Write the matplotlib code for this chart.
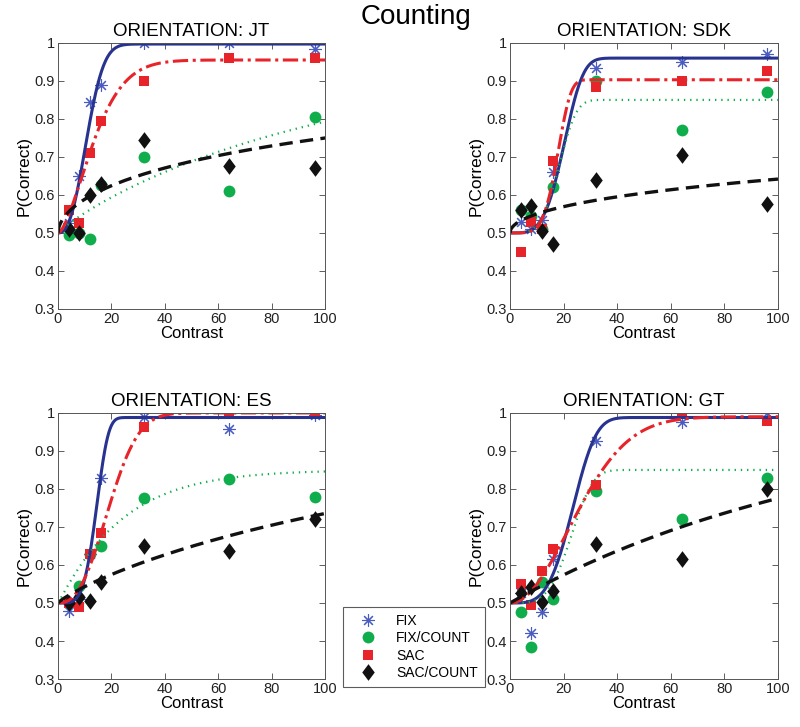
import numpy as np
import matplotlib
matplotlib.use('Agg')
import matplotlib.pyplot as plt
from matplotlib.lines import Line2D

plt.rcParams['font.family'] = ['Liberation Sans', 'DejaVu Sans']

contrasts = [4, 8, 12, 16, 32, 64, 96]
conditions = ['FIX', 'FIX/COUNT', 'SAC', 'SAC/COUNT']

# observed proportion correct, one list per condition and observer
jt_fix = [0.525, 0.65, 0.845, 0.89, 1.0, 1.0, 0.985]
jt_fixcount = [0.495, 0.50, 0.485, 0.625, 0.70, 0.61, 0.805]
jt_sac = [0.56, 0.525, 0.71, 0.795, 0.90, 0.96, 0.96]
jt_saccount = [0.51, 0.50, 0.60, 0.63, 0.745, 0.675, 0.672]

sdk_fix = [0.53, 0.51, 0.535, 0.66, 0.935, 0.95, 0.97]
sdk_fixcount = [0.56, 0.545, 0.51, 0.62, 0.90, 0.77, 0.87]
sdk_sac = [0.45, 0.53, 0.51, 0.69, 0.885, 0.90, 0.925]
sdk_saccount = [0.56, 0.57, 0.505, 0.47, 0.64, 0.705, 0.577]

es_fix = [0.48, 0.51, 0.63, 0.83, 0.99, 0.958, 0.995]
es_fixcount = [0.50, 0.545, 0.63, 0.65, 0.775, 0.825, 0.778]
es_sac = [0.50, 0.49, 0.63, 0.685, 0.963, 1.0, 1.0]
es_saccount = [0.50, 0.515, 0.505, 0.555, 0.65, 0.638, 0.722]

gt_fix = [0.525, 0.42, 0.475, 0.615, 0.925, 0.975, 1.0]
gt_fixcount = [0.475, 0.385, 0.555, 0.51, 0.795, 0.72, 0.828]
gt_sac = [0.55, 0.495, 0.585, 0.643, 0.81, 1.0, 0.98]
gt_saccount = [0.525, 0.543, 0.503, 0.532, 0.655, 0.617, 0.80]

# fitted Weibull parameters (threshold, slope, upper asymptote) per condition
jt_fits = [(12.5, 2.5, 0.997), (115, 0.9, 1.0), (16, 1.6, 0.955), (195, 0.55, 1.0)]
sdk_fits = [(22, 4.0, 0.96), (20, 4.0, 0.85), (19, 5.0, 0.903), (900, 0.5, 1.0)]
es_fits = [(15.5, 4.5, 0.988), (24, 1.05, 0.85), (22, 2.5, 1.0), (170, 0.85, 1.0)]
gt_fits = [(25.6, 3.8, 0.988), (25, 4.0, 0.85), (30.8, 2.0, 0.99), (125, 1.0, 1.0)]

panels = [
    ('ORIENTATION: JT', [jt_fix, jt_fixcount, jt_sac, jt_saccount], jt_fits),
    ('ORIENTATION: SDK', [sdk_fix, sdk_fixcount, sdk_sac, sdk_saccount], sdk_fits),
    ('ORIENTATION: ES', [es_fix, es_fixcount, es_sac, es_saccount], es_fits),
    ('ORIENTATION: GT', [gt_fix, gt_fixcount, gt_sac, gt_saccount], gt_fits),
]

rects = [
    [0.0725, 0.575, 0.334, 0.366],
    [0.6375, 0.575, 0.335, 0.366],
    [0.0725, 0.066, 0.334, 0.366],
    [0.6375, 0.066, 0.335, 0.366],
]

BLUE = '#27338f'
STAR = '#4a5cc0'
GREEN = '#0fad4b'
RED = '#e8242b'
BLACK = '#111111'

# matlab style diamond, a bit taller than wide
diamond = [(0, 1), (0.75, 0), (0, -1), (-0.75, 0), (0, 1)]

marker_styles = [
    dict(marker=(8, 2, 0), color=STAR, markersize=9, markeredgewidth=0.8),
    dict(marker='o', color=GREEN, markersize=8.5, markeredgewidth=0),
    dict(marker='s', color=RED, markersize=7.5, markeredgewidth=0),
    dict(marker=diamond, color=BLACK, markersize=12, markeredgewidth=0),
]
line_styles = [
    dict(color=BLUE, linewidth=2.2, linestyle='-'),
    dict(color=GREEN, linewidth=1.6, linestyle=(0, (0.6, 2.2))),
    dict(color=RED, linewidth=2.2, linestyle=(0, (5, 1.5, 1, 1.5))),
    dict(color=BLACK, linewidth=2.4, linestyle=(0, (4, 2.2))),
]


def weibull(x, alpha, beta, top):
    return 0.5 + (top - 0.5) * (1 - np.exp(-(x / alpha) ** beta))


fig = plt.figure(figsize=(8, 7.27), dpi=100)
fig.text(0.52, 0.977, 'Counting', ha='center', va='center', fontsize=20)

xs = np.linspace(0, 100, 400)
for (title, series, fits), rect in zip(panels, rects):
    ax = fig.add_axes(rect)
    for vals, ms in zip(series, marker_styles):
        ax.plot(contrasts, vals, linestyle='none', **ms)
    for (a, b, top), ls in zip(fits, line_styles):
        ax.plot(xs, weibull(xs, a, b, top), **ls)
    ax.set_xlim(0, 100)
    ax.set_ylim(0.3, 1)
    ax.set_xticks([0, 20, 40, 60, 80, 100])
    ax.set_yticks([0.3, 0.4, 0.5, 0.6, 0.7, 0.8, 0.9, 1.0])
    ax.set_yticklabels(['0.3', '0.4', '0.5', '0.6', '0.7', '0.8', '0.9', '1'])
    ax.tick_params(direction='in', top=True, right=True, labelsize=10.5,
                   length=4, width=0.6, color='#444444', labelcolor='#222222', pad=2)
    for sp in ax.spines.values():
        sp.set_linewidth(0.7)
        sp.set_color('#555555')
    ax.set_title(title, fontsize=13.5, pad=5)
    ax.set_xlabel('Contrast', fontsize=12, labelpad=0)
    ax.set_ylabel('P(Correct)', fontsize=12.5, labelpad=2)

handles = [Line2D([], [], linestyle='none', **ms) for ms in marker_styles]
leg = fig.legend(handles, conditions, loc='lower left', bbox_to_anchor=(0.429, 0.055),
                 fontsize=10, frameon=True, fancybox=False, borderaxespad=0,
                 handletextpad=0.8, labelspacing=0.25, borderpad=0.5, handlelength=2.5)
leg.get_frame().set_edgecolor('#333333')
leg.get_frame().set_linewidth(0.8)

fig.savefig('out.png', dpi=100)
